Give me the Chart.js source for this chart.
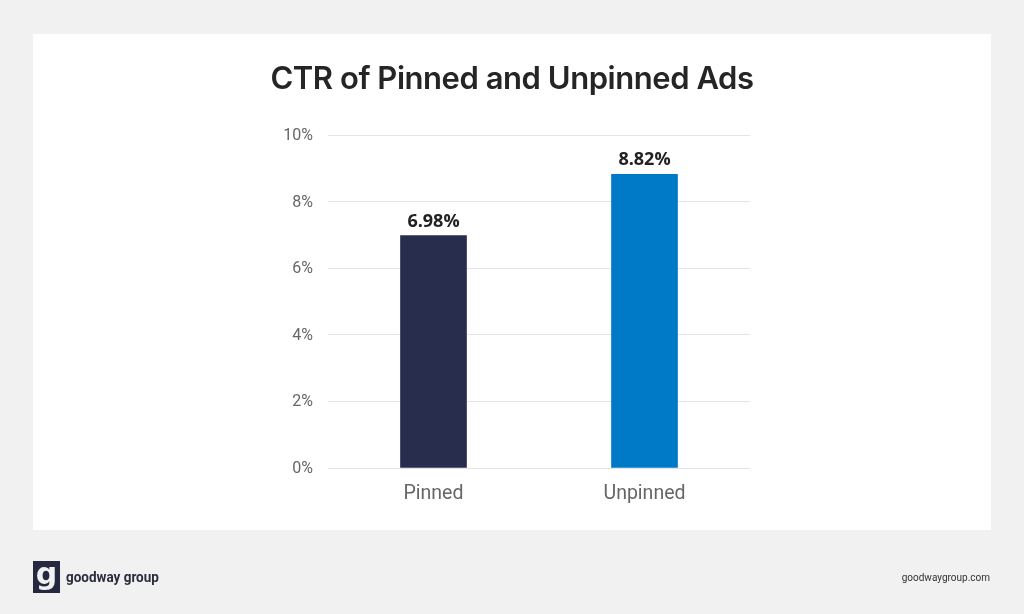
<!DOCTYPE html>
<html>
<head>
<meta charset="utf-8">
<title>CTR of Pinned and Unpinned Ads</title>
<script src="https://cdn.jsdelivr.net/npm/chart.js@4"></script>
<style>
  html, body { margin: 0; padding: 0; }
  body { width: 1024px; height: 614px; background: #f1f1f1; position: relative; overflow: hidden; }
  #card { position: absolute; left: 33px; top: 34px; width: 958px; height: 496px; background: #fff; }
  #chart { position: absolute; left: 0; top: 0; }
  h1 { position: absolute; left: 0; top: 58px; width: 1024px; margin: 0; text-align: center;
       font: 600 31px/40px Inter, sans-serif; color: #252525; letter-spacing: -0.45px; }
  #mark { position: absolute; left: 33px; top: 561px; width: 27px; height: 32px; background: #25283f; color: #f1f1f1;
          font: bold 30px/26px "DejaVu Sans", sans-serif; text-align: center; }
  #brand { position: absolute; left: 66px; top: 568px; font: bold 15.5px/18px Roboto, sans-serif; color: #2b2d3f;
           transform: scaleX(0.87); transform-origin: left center; white-space: nowrap; }
  #site { position: absolute; right: 34px; top: 570px; font: 10px/16px Roboto, sans-serif; color: #333; }
</style>
</head>
<body>
<div id="card"></div>
<canvas id="chart" width="1024" height="614"></canvas>
<h1>CTR of Pinned and Unpinned Ads</h1>
<div id="mark">g</div>
<div id="brand">goodway group</div>
<div id="site">goodwaygroup.com</div>
<script>
// values
let categories = ["Pinned", "Unpinned"];
let ctrValues = [6.98, 8.82];
let barColors = ["#282d4e", "#007ac7"];

// writes the value above each bar
let barLabels = {
      id: "barLabels",
      afterDatasetsDraw: (chart) => {
            let ctx = chart.ctx;
            ctx.save();
            ctx.font = "bold 18px 'Open Sans', sans-serif";
            ctx.fillStyle = "#222";
            ctx.textAlign = "center";
            ctx.textBaseline = "bottom";
            chart.getDatasetMeta(0).data.forEach((bar, i) => {
                  ctx.fillText(ctrValues[i].toFixed(2) + "%", bar.x, bar.y - 5);
            });
            ctx.restore();
      }
};

new Chart(document.getElementById("chart"), {
      type: "bar",
      plugins: [barLabels],
      data: {
            labels: categories,
            datasets: [{
                  data: ctrValues,
                  backgroundColor: barColors,
                  barThickness: 66
            }]
      },
      options: {
            responsive: false,
            animation: false,
            layout: { padding: { top: 135, right: 274, bottom: 0, left: 0 } },
            plugins: { legend: { display: false }, tooltip: { enabled: false } },
            scales: {
                  x: {
                        afterFit: (scale) => { scale.height = 146; },
                        grid: { display: false },
                        border: { display: false },
                        ticks: { color: "#666", padding: 6, font: { family: "Roboto", size: 19.5 } }
                  },
                  y: {
                        min: 0,
                        max: 10,
                        afterFit: (scale) => { scale.width = 328; },
                        grid: { color: "#e2e4e8", lineWidth: 1, drawTicks: false },
                        border: { display: false },
                        ticks: {
                              stepSize: 2,
                              color: "#666",
                              padding: 15,
                              labelOffset: 1,
                              font: { family: "Roboto", size: 16 },
                              callback: (value) => value + "%"
                        }
                  }
            }
      }
});
</script>
</body>
</html>
